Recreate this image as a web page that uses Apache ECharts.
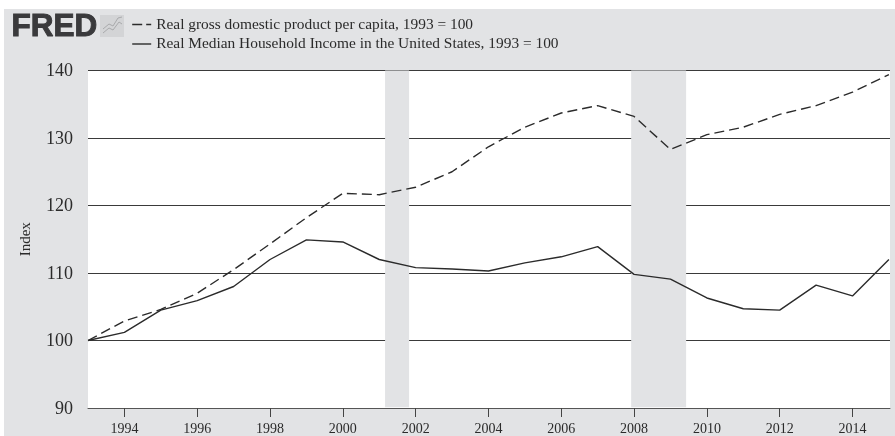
<!DOCTYPE html>
<html><head><meta charset="utf-8">
<style>html,body{margin:0;padding:0;background:#fff}
#bg{position:absolute;left:4px;top:9px;width:891px;height:427px;background:#e2e3e5}
#c{position:absolute;left:0;top:0;width:895px;height:436px}</style>
<script src="https://cdn.jsdelivr.net/npm/echarts@6/dist/echarts.min.js"></script>
</head><body><div id="bg"></div><div id="c"></div>
<script>
const years=[1993,1994,1995,1996,1997,1998,1999,2000,2001,2002,2003,2004,2005,2006,2007,2008,2009,2010,2011,2012,2013,2014,2015];
const gdpPerCapita=[100,102.9,104.6,107,110.5,114.3,118.2,121.8,121.6,122.7,125,128.7,131.6,133.7,134.8,133.2,128.3,130.5,131.6,133.5,134.8,136.8,139.4];
const medianIncome=[100,101.2,104.5,105.9,108,112,114.9,114.6,112,110.8,110.6,110.3,111.5,112.4,113.9,109.8,109.1,106.3,104.7,104.5,108.2,106.6,112];
const tickYears=[1994,1996,1998,2000,2002,2004,2006,2008,2010,2012,2014];
const recessions=[[2001.16,2001.82],[2007.92,2009.43]];
const gdpName='Real gross domestic product per capita, 1993 = 100';
const incomeName='Real Median Household Income in the United States, 1993 = 100';
const serif='"Liberation Serif","Times New Roman",serif';
const ink='#2b2b2b';
const pair=a=>years.map((y,i)=>[y,a[i]]);
const chart=echarts.init(document.getElementById('c'),null,{renderer:'canvas'});
chart.setOption({
 animation:false,
 backgroundColor:'transparent',
 textStyle:{fontFamily:serif},
 grid:{left:88,right:5,top:70.5,height:338,show:true,backgroundColor:'#fff',borderWidth:0},
 legend:{show:true,orient:'vertical',left:131.5,top:17,padding:0,itemGap:4.5,itemWidth:19,itemHeight:14,
  itemStyle:{opacity:0},
  textStyle:{fontFamily:serif,fontSize:15.4,color:ink},
  data:[{name:gdpName,lineStyle:{type:[10,4],width:1.4}},{name:incomeName,lineStyle:{width:1.4}}]},
 xAxis:{type:'value',min:1993,max:2015.03,
  splitLine:{show:false},
  axisLine:{show:true,lineStyle:{color:'#555',width:1}},
  axisTick:{show:true,length:9,lineStyle:{color:'#444'},customValues:tickYears},
  axisLabel:{customValues:tickYears,color:ink,fontSize:14,margin:14,formatter:v=>String(v),hideOverlap:false}},
 yAxis:{type:'value',min:90,max:140,interval:10,
  name:'Index',nameLocation:'middle',nameGap:54,nameRotate:90,
  nameTextStyle:{fontFamily:serif,fontSize:15,color:ink},
  axisLine:{show:false},axisTick:{show:false},
  axisLabel:{color:ink,fontSize:18,margin:15,verticalAlign:'top',lineHeight:2},
  splitLine:{show:true,lineStyle:{color:'#3a3a3a',width:1}}},
 series:[
  {type:'line',name:gdpName,data:pair(gdpPerCapita),symbol:'none',z:5,
   lineStyle:{color:ink,width:1.4,type:[10,5]},itemStyle:{color:ink},
   markArea:{silent:true,itemStyle:{color:'#e2e3e5',opacity:1},
    data:recessions.map(r=>[{xAxis:r[0],yAxis:140},{xAxis:r[1],yAxis:90.1}])}},
  {type:'line',name:incomeName,data:pair(medianIncome),symbol:'none',z:5,
   lineStyle:{color:ink,width:1.4},itemStyle:{color:ink}}
 ],
 graphic:[
  {type:'text',left:11,top:11,style:{text:'FRED',fontFamily:'"Liberation Sans",Arial,sans-serif',fontWeight:'bold',fontSize:31.5,fill:'#3a3a3c',stroke:'#3a3a3c',lineWidth:1}},
  {type:'rect',shape:{x:100,y:15,width:24,height:22},style:{fill:'#d3d4d6'}},
  {type:'polyline',shape:{points:[[103,33],[109,28],[113,30],[119,22],[122,24]]},style:{stroke:'#a9aaac',fill:null,lineWidth:1}},
  {type:'polyline',shape:{points:[[103,29],[109,24],[113,26],[118,18],[122,17]]},style:{stroke:'#a9aaac',fill:null,lineWidth:1}}
 ]
});
</script></body></html>
